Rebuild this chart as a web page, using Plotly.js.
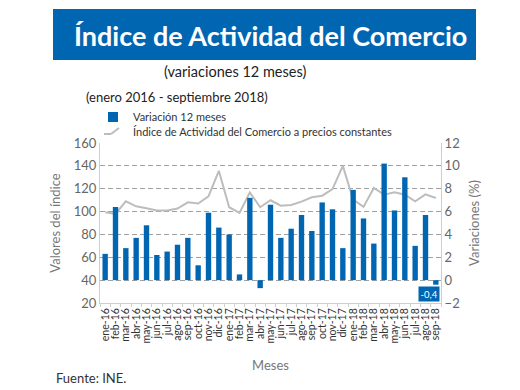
<!DOCTYPE html>
<html>
<head>
<meta charset="utf-8">
<script src="https://cdn.plot.ly/plotly-3.0.1.min.js"></script>
<style>html,body{margin:0;padding:0;background:#fff;}#chart{width:520px;height:390px;}</style>
</head>
<body>
<div id="chart"></div>
<script>
const months = ["ene-16","feb-16","mar-16","abr-16","may-16","jun-16","jul-16","ago-16","sep-16","oct-16","nov-16","dic-16",
"ene-17","feb-17","mar-17","abr-17","may-17","jun-17","jul-17","ago-17","sep-17","oct-17","nov-17","dic-17",
"ene-18","feb-18","mar-18","abr-18","may-18","jun-18","jul-18","ago-18","sep-18"];
const variacion = [2.3,6.4,2.8,3.7,4.8,2.2,2.5,3.1,3.7,1.3,5.9,4.6,
4.0,0.5,7.2,-0.7,6.6,3.7,4.5,5.7,4.3,6.8,6.2,2.8,
7.9,5.4,3.2,10.2,6.1,9.0,3.0,5.7,-0.4];
const indice = [99.5,98.0,109.0,104.6,102.9,100.9,100.9,102.6,108.1,107.0,113.3,135.7,
103.8,98.9,116.8,103.8,109.9,105.2,105.8,108.7,112.5,113.9,119.7,140.0,
110.4,104.1,120.6,114.8,116.8,114.8,109.0,115.1,111.9];
const barName = "Variación 12 meses";
const lineName = "Índice de Actividad del Comercio a precios constantes";
const titleText = "Índice de Actividad del Comercio";
const subtitle1 = "(variaciones 12 meses)";
const subtitle2 = "(enero 2016 - septiembre 2018)";
const sourceText = "Fuente: INE.";

const BLUE = "#0066b2";
const GRAY_LINE = "#bdbdbd";
const FONT = "Lato, 'Open Sans', sans-serif";

// plot area in pixels
const L = 100, R = 441, T = 143, B = 303;
const X = p => (p - L) / (R - L);
const Y = p => (B - p) / (B - T);

const lastIdx = variacion.length - 1;
const lastLabel = variacion[lastIdx].toString().replace(".", ",");

const traces = [
  {type: "bar", name: barName, x: months, y: variacion, yaxis: "y2",
   marker: {color: BLUE}, showlegend: false, hoverinfo: "x+y"},
  {type: "scatter", mode: "lines", name: lineName, x: months, y: indice, yaxis: "y",
   line: {color: GRAY_LINE, width: 2}, showlegend: false}
];

const layout = {
  width: 520, height: 390,
  margin: {l: L, r: 520 - R, t: T, b: 390 - B, pad: 0},
  paper_bgcolor: "#fff", plot_bgcolor: "#fff",
  font: {family: FONT, color: "#666", size: 12},
  bargap: 0.48,
  showlegend: false,
  separators: ",.",
  xaxis: {
    type: "category", tickmode: "array", tickvals: months, ticktext: months,
    tickangle: -90, tickfont: {size: 10.5, color: "#333"},
    showline: true, linecolor: "#cfcfcf", linewidth: 1,
    ticks: "outside", tickson: "boundaries", ticklen: 3, tickcolor: "#cfcfcf",
    showgrid: false, zeroline: false,
    range: [-0.5, months.length - 0.5],
    title: {text: "Meses", font: {size: 13, color: "#777"}, standoff: 18}
  },
  yaxis: {
    range: [20, 160], dtick: 20, tick0: 20,
    tickfont: {size: 13, color: "#666"},
    showline: true, linecolor: "#cfcfcf", linewidth: 1,
    showgrid: true, gridcolor: "#a0a0a0", gridwidth: 1, griddash: "5px,3px",
    zeroline: false, ticks: "", ticklen: 0,
    title: {text: "Valores del índice", font: {size: 13, color: "#777"}, standoff: 10}
  },
  yaxis2: {
    overlaying: "y", side: "right",
    range: [-2, 12], dtick: 2, tick0: -2,
    tickfont: {size: 13, color: "#666"},
    showline: true, linecolor: "#cfcfcf", linewidth: 1,
    showgrid: false, zeroline: false,
    title: {text: "Variaciones (%)", font: {size: 13, color: "#777"}, standoff: 10}
  },
  shapes: [
    {type: "rect", xref: "paper", yref: "paper", x0: X(53), x1: X(476), y0: Y(60), y1: Y(9),
     fillcolor: BLUE, line: {width: 0}, layer: "below"},
    {type: "rect", xref: "paper", yref: "paper", x0: X(108), x1: X(118), y0: Y(122), y1: Y(112),
     fillcolor: BLUE, line: {width: 0}},
    {type: "line", xref: "paper", yref: "paper", x0: X(104), x1: X(111), y0: Y(134), y1: Y(134),
     line: {color: GRAY_LINE, width: 2}},
    {type: "line", xref: "paper", yref: "paper", x0: X(111), x1: X(119), y0: Y(134), y1: Y(128),
     line: {color: GRAY_LINE, width: 2}}
  ],
  annotations: [
    {text: "<b>" + titleText + "</b>", xref: "paper", yref: "paper", x: X(270), y: Y(35),
     xanchor: "center", yanchor: "middle", showarrow: false,
     font: {family: FONT, size: 27, color: "#fff"}},
    {text: subtitle1, xref: "paper", yref: "paper", x: X(235), y: Y(71),
     xanchor: "center", yanchor: "middle", showarrow: false,
     font: {family: FONT, size: 14.5, color: "#222"}},
    {text: subtitle2, xref: "paper", yref: "paper", x: X(84), y: Y(97),
     xanchor: "left", yanchor: "middle", showarrow: false,
     font: {family: FONT, size: 13, color: "#222"}},
    {text: barName, xref: "paper", yref: "paper", x: X(131), y: Y(117),
     xanchor: "left", yanchor: "middle", showarrow: false,
     font: {family: FONT, size: 11, color: "#333"}},
    {text: lineName, xref: "paper", yref: "paper", x: X(131), y: Y(131),
     xanchor: "left", yanchor: "middle", showarrow: false,
     font: {family: FONT, size: 11, color: "#333"}},
    {text: sourceText, xref: "paper", yref: "paper", x: X(54), y: Y(378),
     xanchor: "left", yanchor: "middle", showarrow: false,
     font: {family: FONT, size: 13, color: "#333"}},
    {text: lastLabel, xref: "x", yref: "y2", x: months[lastIdx], y: variacion[lastIdx],
     xanchor: "center", yanchor: "top", xshift: -7, yshift: -1, showarrow: false,
     bgcolor: BLUE, borderpad: 1.5, font: {family: FONT, size: 9.5, color: "#fff"}}
  ]
};

Plotly.newPlot("chart", traces, layout, {displayModeBar: false, staticPlot: true});
</script>
</body>
</html>
